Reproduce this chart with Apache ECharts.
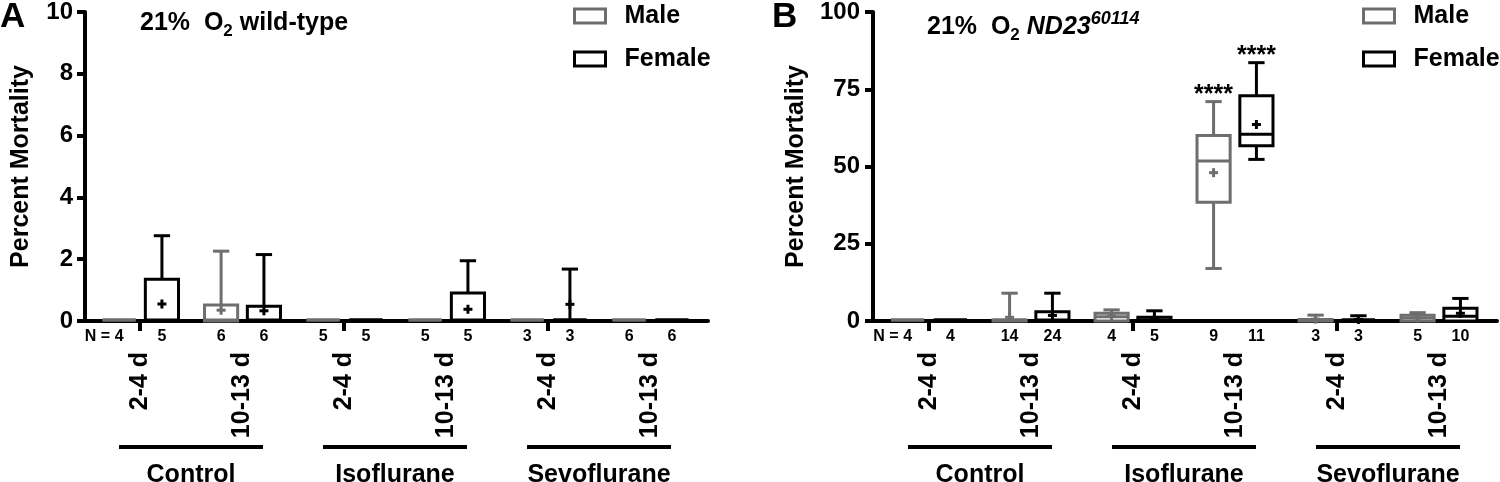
<!DOCTYPE html>
<html><head><meta charset="utf-8">
<script src="https://cdn.jsdelivr.net/npm/echarts@6/dist/echarts.min.js"></script>
<style>html,body{margin:0;padding:0;background:#fff}#c{width:1500px;height:482px}</style>
</head><body><div id="c"></div>
<script>
// ---------- DATA ----------
const groups = ['Control', 'Isoflurane', 'Sevoflurane'];
const ages = ['2-4 d', '10-13 d', '2-4 d', '10-13 d', '2-4 d', '10-13 d'];
const categories = ['Control 2-4 d', 'Control 10-13 d', 'Isoflurane 2-4 d', 'Isoflurane 10-13 d', 'Sevoflurane 2-4 d', 'Sevoflurane 10-13 d'];
const ticksA = [0, 2, 4, 6, 8, 10];
const ticksB = [0, 25, 50, 75, 100];
// box stats per category: [min, Q1, median, Q3, max, mean]
const maleA   = [[0,0,0,0,0,0],[0,0,0,0.52,2.26,0.35],[0,0,0,0,0,0],[0,0,0,0,0,0],[0,0,0,0,0,0],[0,0,0,0,0,0]];
const femaleA = [[0,0,0,1.35,2.76,0.55],[0,0,0,0.48,2.15,0.33],[0,0,0,0,0,0],[0,0,0,0.91,1.95,0.38],[0,0,0,0,1.68,0.54],[0,0,0,0,0,0]];
const nMaleA   = [4, 6, 5, 5, 3, 6];
const nFemaleA = [5, 6, 5, 5, 3, 6];
const maleB   = [[0,0,0,0,0,0],[0,0,0,0.3,9.0,1.2],[0,0,1.4,2.5,3.6,1.6],[17,38.4,51.8,60,71,48],[0,0,0,0.5,1.9,0.6],[0,0,1.0,1.9,2.7,1.0]];
const femaleB = [[0,0,0,0,0,0],[0,0,0,3.0,9.0,1.8],[0,0,0,1.2,3.3,0.8],[52.3,56.7,60.4,72.9,83.6,63.6],[0,0,0,0,1.7,0.5],[0,0,1.5,4.1,7.3,2.5]];
const nMaleB   = [4, 14, 4, 9, 3, 5];
const nFemaleB = [4, 24, 5, 11, 3, 10];
const starsMaleB   = ['', '', '', '****', '', ''];
const starsFemaleB = ['', '', '', '****', '', ''];

// ---------- STYLE ----------
const FONT = 'Liberation Sans, Arial, Helvetica, sans-serif';
const GREY = '#6e6e6e';
const BLACK = '#000';

function toData(stats, ns) {
  return stats.map((s, i) => [i].concat(s).concat([ns[i]]));
}

function makeRender(offsetFrac, color, stars, showN) {
  return function (params, api) {
    const i = api.value(0);
    const band = api.size([1, 0])[0];
    const cx = api.coord([i, 0])[0] + offsetFrac * band;
    const y = v => api.coord([i, v])[1];
    const mn = api.value(1), q1 = api.value(2), md = api.value(3), q3 = api.value(4), mx = api.value(5), mean = api.value(6), n = api.value(7);
    const bw = band * 0.325, cw = band * 0.16;
    const lw = 3;
    const ls = { stroke: color, lineWidth: lw, fill: null };
    const ch = [];
    if (mx > q3) {
      ch.push({ type: 'line', shape: { x1: cx, y1: y(q3), x2: cx, y2: y(mx) }, style: ls });
      ch.push({ type: 'line', shape: { x1: cx - cw / 2, y1: y(mx), x2: cx + cw / 2, y2: y(mx) }, style: ls });
    }
    if (mn < q1) {
      ch.push({ type: 'line', shape: { x1: cx, y1: y(q1), x2: cx, y2: y(mn) }, style: ls });
      ch.push({ type: 'line', shape: { x1: cx - cw / 2, y1: y(mn), x2: cx + cw / 2, y2: y(mn) }, style: ls });
    }
    ch.push({ type: 'rect', shape: { x: cx - bw / 2, y: y(q3) - (q3 === q1 ? 1 : 0), width: bw, height: y(q1) - y(q3) }, style: { stroke: color, lineWidth: lw, fill: '#fff' } });
    ch.push({ type: 'line', shape: { x1: cx - bw / 2, y1: y(md) - (md === 0 ? 1 : 0), x2: cx + bw / 2, y2: y(md) - (md === 0 ? 1 : 0) }, style: ls });
    if (mean > 0) {
      const ym = y(mean);
      ch.push({ type: 'rect', shape: { x: cx - 4.5, y: ym - 1.5, width: 9, height: 3 }, style: { fill: color } });
      ch.push({ type: 'rect', shape: { x: cx - 1.5, y: ym - 4.5, width: 3, height: 9 }, style: { fill: color } });
    }
    const y0 = y(0);
    ch.push({ type: 'text', x: cx, y: y0 + 8, style: { text: String(n), fill: BLACK, font: 'bold 16px ' + FONT, align: 'center', verticalAlign: 'top' } });
    if (showN && params.dataIndex === 0) {
      ch.push({ type: 'text', x: cx - 9, y: y0 + 8, style: { text: 'N =', fill: BLACK, font: 'bold 16px ' + FONT, align: 'right', verticalAlign: 'top' } });
    }
    if (stars && stars[params.dataIndex]) {
      ch.push({ type: 'text', x: cx, y: y(mx) - 7, style: { text: stars[params.dataIndex], fill: BLACK, font: 'bold 25px ' + FONT, align: 'center', verticalAlign: 'middle' } });
    }
    return { type: 'group', children: ch };
  };
}

function panelAxes(mainGrid, frameGrid, max, interval, nameGap, labelMargin) {
  const xAxes = [
    { gridIndex: mainGrid, type: 'category', data: categories, position: 'bottom', offset: 1.5,
      axisLine: { show: false }, axisTick: { show: true, alignWithLabel: true, length: 10, lineStyle: { width: 4, color: BLACK } },
      axisLabel: { show: false }, splitLine: { show: false } },
    { gridIndex: mainGrid, type: 'category', data: ages, position: 'bottom', offset: 0,
      axisLine: { show: false }, axisTick: { show: false },
      axisLabel: { interval: 0, rotate: 90, margin: 31, fontSize: 25, fontWeight: 'bold', color: BLACK, fontFamily: FONT } },
    { gridIndex: mainGrid, type: 'category', data: groups, position: 'bottom', offset: 0,
      axisLine: { show: false }, axisTick: { show: false },
      axisLabel: { interval: 0, margin: 124, color: BLACK, fontFamily: FONT,
        formatter: v => '{l| }\n{n|' + v + '}',
        rich: { l: { width: 144, height: 4, lineHeight: 4, fontSize: 4, backgroundColor: BLACK },
                n: { fontSize: 25, fontWeight: 'bold', lineHeight: 52, align: 'center', color: BLACK, fontFamily: FONT } } } },
    { gridIndex: frameGrid, type: 'value', min: 0, max: 1, position: 'bottom', offset: 1.5,
      axisLine: { show: true, lineStyle: { width: 4, color: BLACK } }, axisTick: { show: false },
      axisLabel: { show: false }, splitLine: { show: false } }
  ];
  const yAxes = [
    { gridIndex: mainGrid, type: 'value', min: 0, max: max, interval: interval, show: false, splitLine: { show: false } },
    { gridIndex: frameGrid, type: 'value', min: 0, max: max, interval: interval, position: 'left',
      name: 'Percent Mortality', nameLocation: 'middle', nameGap: nameGap, nameMoveOverlap: false,
      nameTextStyle: { fontSize: 25, fontWeight: 'bold', color: BLACK, fontFamily: FONT },
      axisLine: { show: true, lineStyle: { width: 4, color: BLACK } },
      axisTick: { show: true, length: 8, lineStyle: { width: 4, color: BLACK } },
      axisLabel: { margin: labelMargin, fontSize: 24, fontWeight: 'bold', color: BLACK, fontFamily: FONT },
      splitLine: { show: false } }
  ];
  return { xAxes, yAxes };
}

const pA = panelAxes(0, 1, 10, 2, 51, 12);
const pB = panelAxes(2, 3, 100, 25, 64, 13);

const legendText = { fontSize: 25, fontWeight: 'bold', color: BLACK, fontFamily: FONT, lineHeight: 28, padding: [0, 0, 0, 14] };
function legendData() {
  return [
    { name: 'Male', icon: 'rect', itemStyle: { color: '#fff', borderColor: GREY, borderWidth: 3 } },
    { name: 'Female', icon: 'rect', itemStyle: { color: '#fff', borderColor: BLACK, borderWidth: 3 } }
  ];
}

const titleRich = {
  a: { fontSize: 25, fontWeight: 'bold', color: BLACK, fontFamily: FONT, lineHeight: 34 },
  s: { fontSize: 17, fontWeight: 'bold', color: BLACK, fontFamily: FONT, lineHeight: 18, verticalAlign: 'bottom' },
  i: { fontSize: 25, fontWeight: 'bold', fontStyle: 'italic', color: BLACK, fontFamily: FONT, lineHeight: 34 },
  p: { fontSize: 18, fontWeight: 'bold', fontStyle: 'italic', color: BLACK, fontFamily: FONT, lineHeight: 14, verticalAlign: 'top' }
};

const option = {
  animation: false,
  backgroundColor: '#fff',
  textStyle: { fontFamily: FONT },
  title: [
    { text: 'A', left: 0, top: 0, padding: 0, textStyle: { fontSize: 35, fontWeight: 'bold', color: BLACK, fontFamily: FONT } },
    { text: 'B', left: 772, top: 0, padding: 0, textStyle: { fontSize: 35, fontWeight: 'bold', color: BLACK, fontFamily: FONT } },
    { text: '{a|21%  O}{s|2}{a| wild-type}', left: 140, top: 6, padding: 0, textStyle: { rich: titleRich } },
    { text: '{a|21%  O}{s|2}{a| }{i|ND23}{p|60114}', left: 927, top: 10, padding: 0, textStyle: { rich: titleRich } }
  ],
  legend: [
    { left: 573, top: 2, padding: 0, orient: 'vertical', itemWidth: 31, itemHeight: 14, itemGap: 15, selectedMode: false, data: legendData(), textStyle: legendText },
    { left: 1362, top: 2, padding: 0, orient: 'vertical', itemWidth: 31, itemHeight: 14, itemGap: 15, selectedMode: false, data: legendData(), textStyle: legendText }
  ],
  grid: [
    { left: 89, top: 12, width: 612, height: 309, outerBoundsMode: 'none', containLabel: false },
    { left: 85, top: 12, width: 623, height: 309, outerBoundsMode: 'none', containLabel: false },
    { left: 878, top: 12, width: 612, height: 309, outerBoundsMode: 'none', containLabel: false },
    { left: 873, top: 12, width: 624, height: 309, outerBoundsMode: 'none', containLabel: false }
  ],
  xAxis: pA.xAxes.concat(pB.xAxes),
  yAxis: pA.yAxes.concat(pB.yAxes),
  series: [
    { name: 'Male', type: 'custom', xAxisIndex: 0, yAxisIndex: 0, data: toData(maleA, nMaleA), encode: { x: 0, y: [1, 2, 3, 4, 5] }, renderItem: makeRender(-0.205, GREY, null, true), itemStyle: { color: GREY }, z: 5 },
    { name: 'Female', type: 'custom', xAxisIndex: 0, yAxisIndex: 0, data: toData(femaleA, nFemaleA), encode: { x: 0, y: [1, 2, 3, 4, 5] }, renderItem: makeRender(0.215, BLACK, null, false), itemStyle: { color: BLACK }, z: 5 },
    { name: 'Male', type: 'custom', xAxisIndex: 4, yAxisIndex: 2, data: toData(maleB, nMaleB), encode: { x: 0, y: [1, 2, 3, 4, 5] }, renderItem: makeRender(-0.21, GREY, starsMaleB, true), itemStyle: { color: GREY }, z: 5 },
    { name: 'Female', type: 'custom', xAxisIndex: 4, yAxisIndex: 2, data: toData(femaleB, nFemaleB), encode: { x: 0, y: [1, 2, 3, 4, 5] }, renderItem: makeRender(0.21, BLACK, starsFemaleB, false), itemStyle: { color: BLACK }, z: 5 }
  ]
};

const chart = echarts.init(document.getElementById('c'), null, { renderer: 'canvas' });
chart.setOption(option);
</script>
</body></html>
